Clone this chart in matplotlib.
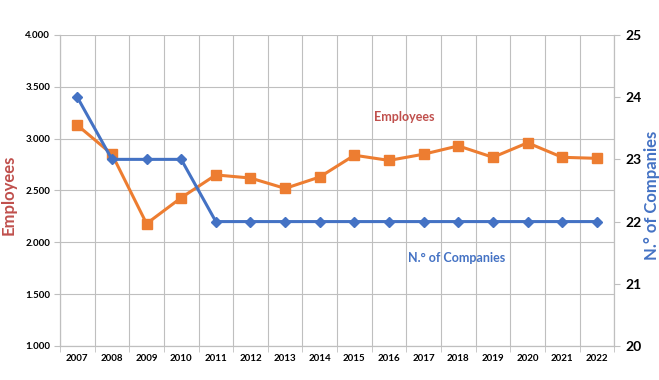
import matplotlib.pyplot as plt
from matplotlib.ticker import FuncFormatter, MultipleLocator, FixedLocator

plt.rcParams['font.family'] = ['Lato', 'DejaVu Sans']

years = ["2007", "2008", "2009", "2010", "2011", "2012", "2013", "2014",
         "2015", "2016", "2017", "2018", "2019", "2020", "2021", "2022"]
employees = [3130, 2850, 2180, 2430, 2650, 2620, 2520, 2630,
             2840, 2790, 2850, 2930, 2820, 2960, 2820, 2810]
companies = [24, 23, 23, 23, 22, 22, 22, 22,
             22, 22, 22, 22, 22, 22, 22, 22]

orange = "#ED7D31"
blue = "#4472C4"
red = "#C0504D"
grid_c = "#BFBFBF"

fig = plt.figure(figsize=(6.59, 3.80), dpi=100)
ax = fig.add_axes([0.091, 0.0895, 0.841, 0.8185])
ax2 = ax.twinx()

x = list(range(len(years)))
ax.plot(x, employees, color=orange, lw=2.2, marker="s", ms=6.5, zorder=3)
ax2.plot(x, companies, color=blue, lw=2.2, marker="D", ms=5, zorder=3)

# left axis
ax.set_ylim(1000, 4000)
ax.yaxis.set_major_locator(MultipleLocator(500))
ax.yaxis.set_major_formatter(FuncFormatter(lambda v, p: f"{int(v):,}".replace(",", ".")))
ax.set_xlim(-0.5, len(years) - 0.5)
ax.set_xticks(x)
ax.set_xticklabels(years)
ax.xaxis.set_minor_locator(FixedLocator([i - 0.5 for i in range(len(years) + 1)]))
ax.grid(True, which="minor", axis="x", color=grid_c, lw=0.8)
ax.grid(True, which="major", axis="y", color=grid_c, lw=0.8)
ax.tick_params(axis="x", which="major", length=0, pad=6)
ax.tick_params(axis="x", which="minor", length=4, color=grid_c)
ax.tick_params(axis="y", length=4, color=grid_c, pad=3)
ax.set_axisbelow(True)

# right axis
ax2.set_ylim(20, 25)
ax2.yaxis.set_major_locator(MultipleLocator(1))
ax2.tick_params(axis="y", length=4, color=grid_c, pad=4)

for a in (ax, ax2):
    for s in a.spines.values():
        s.set_color(grid_c)
        s.set_linewidth(0.8)
    a.spines["top"].set_visible(False)

for lbl in ax.get_xticklabels() + ax.get_yticklabels():
    lbl.set_fontsize(7)
    lbl.set_fontweight("bold")
for lbl in ax2.get_yticklabels():
    lbl.set_fontsize(10)
    lbl.set_fontweight("bold")

# axis titles
fig.text(9 / 659, 1 - 195 / 380, "Employees", color=red, fontsize=12,
         fontweight="bold", rotation=90, ha="center", va="center")
fig.text(652 / 659, 1 - 195 / 380, "N.° of Companies", color=blue, fontsize=12,
         fontweight="bold", rotation=90, ha="center", va="center")

# in-plot series labels
ax.text(9.45, 3210, "Employees", color=red, fontsize=9, fontweight="bold",
        ha="center", va="center")
ax2.text(10.95, 21.41, "N.° of Companies", color=blue, fontsize=9, fontweight="bold",
         ha="center", va="center")

fig.savefig("out.png", dpi=100)
